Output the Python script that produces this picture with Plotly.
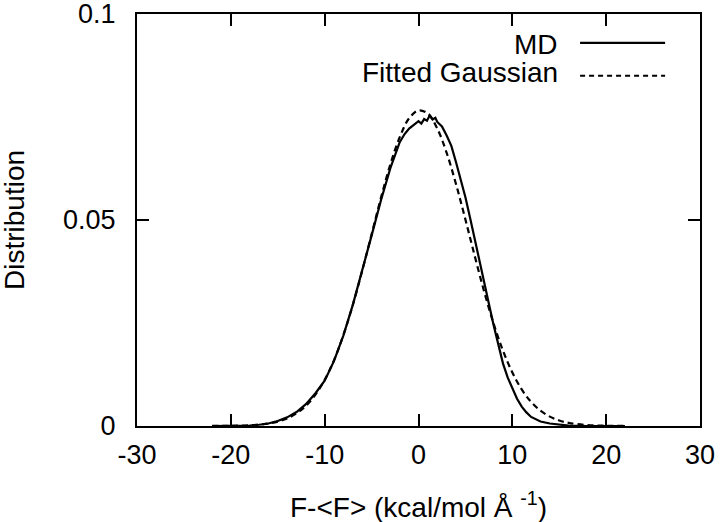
import plotly.graph_objects as go

# MD distribution
md_x = [-22, -20, -18, -17, -16, -15, -14, -13, -12, -11, -10, -9, -8, -7, -6, -5, -4, -3, -2,
        -1.5, -1, -0.5, 0, 0.3, 0.6, 0.9, 1.2, 1.5, 1.8, 2, 2.5, 3, 3.5, 4, 4.5, 5, 5.5, 6,
        6.5, 7, 7.5, 8, 8.5, 9, 9.5, 10, 10.5, 11, 11.5, 12, 13, 14, 15, 16, 18, 20, 22]
md_y = [0.0, 0.0, 0.0001, 0.0003, 0.0006, 0.0012, 0.0021, 0.0034, 0.0053, 0.0079, 0.0110,
        0.0158, 0.0220, 0.0294, 0.0376, 0.0462, 0.0548, 0.0626, 0.0689,
        0.0708, 0.0722, 0.0731, 0.0740, 0.0734, 0.0745, 0.0741, 0.0754, 0.0744, 0.0748,
        0.0738, 0.0727, 0.0705, 0.0680, 0.0640, 0.0600, 0.0555, 0.0505, 0.0455,
        0.0405, 0.0350, 0.0297, 0.0245, 0.0195, 0.0152, 0.0118, 0.0090, 0.0066, 0.0047,
        0.0033, 0.0022, 0.0011, 0.0006, 0.0003, 0.0001, 0.0, 0.0, 0.0]

# Fitted Gaussian
fit_x = [-22, -20, -18, -16, -15, -14, -13, -12, -11, -10, -9, -8, -7, -6, -5, -4, -3, -2, -1,
         0, 1, 2, 3, 4, 5, 6, 7, 8, 9, 10, 11, 12, 13, 14, 15, 16, 18, 20, 22]
fit_y = [0.00001, 0.00004, 0.00017, 0.00060, 0.00107, 0.00184, 0.00306, 0.00489, 0.00755,
         0.0112, 0.0160, 0.0221, 0.0294, 0.0377, 0.0465, 0.0554, 0.0635, 0.0701, 0.0747,
         0.0766, 0.0758, 0.0722, 0.0663, 0.0587, 0.0501, 0.0412, 0.0326, 0.0249, 0.0183,
         0.0130, 0.00887, 0.00584, 0.00371, 0.00227, 0.00134, 0.00076, 0.00022, 0.000055, 0.00001]

x_ticks = [-30, -20, -10, 0, 10, 20, 30]
y_ticks = [0, 0.05, 0.1]
y_tick_labels = ["0", "0.05", "0.1"]

FONT = "Liberation Sans, Arial, sans-serif"
FS = 28
TXT = dict(family=FONT, size=FS, color="black")
TICKTXT = dict(family=FONT, size=27, color="black")

fig = go.Figure()
fig.add_trace(go.Scatter(x=md_x, y=md_y, mode="lines", name="MD",
                         line=dict(color="black", width=2.2), showlegend=False))
fig.add_trace(go.Scatter(x=fit_x, y=fit_y, mode="lines", name="Fitted Gaussian",
                         line=dict(color="black", width=2.2, dash="6px,4px", shape="spline"),
                         showlegend=False))

axis_common = dict(showline=True, linecolor="black", linewidth=2, mirror="ticks",
                   ticks="inside", ticklen=12, tickwidth=2, tickcolor="black",
                   showgrid=False, zeroline=False, automargin=False, tickfont=TICKTXT,
                   ticklabeloverflow="allow")

fig.update_xaxes(range=[-30, 30], tickvals=x_ticks, ticktext=[str(v) for v in x_ticks],
                 ticklabelstandoff=4, **axis_common)
fig.update_yaxes(range=[0, 0.1000001], tickvals=y_ticks, ticktext=y_tick_labels,
                 ticklabelstandoff=14, **axis_common)

# axis titles
fig.add_annotation(x=0.5, y=0, xref="paper", yref="paper",
                   text="F-&lt;F&gt; (kcal/mol Å <sup>-1</sup>)", showarrow=False,
                   xanchor="center", yanchor="middle", yshift=-79, font=TXT)
fig.add_annotation(x=0, y=0.5, xref="paper", yref="paper", text="Distribution",
                   showarrow=False, textangle=-90, xanchor="center", yanchor="middle",
                   xshift=-123, font=TXT)

# gnuplot-style key: text right-aligned, sample line to the right
fig.add_annotation(x=0.751, y=0.927, xref="paper", yref="paper", text="MD", showarrow=False,
                   xanchor="right", yanchor="middle", font=TXT)
fig.add_annotation(x=0.751, y=0.859, xref="paper", yref="paper", text="Fitted Gaussian",
                   showarrow=False, xanchor="right", yanchor="middle", font=TXT)
fig.add_shape(type="line", xref="paper", yref="paper", x0=0.787, x1=0.938, y0=0.930, y1=0.930,
              line=dict(color="black", width=2.2))
fig.add_shape(type="line", xref="paper", yref="paper", x0=0.787, x1=0.938, y0=0.850, y1=0.850,
              line=dict(color="black", width=2, dash="5px,4px"))

fig.update_layout(width=720, height=522, plot_bgcolor="white", paper_bgcolor="white",
                  margin=dict(l=137, r=20, t=14, b=96), showlegend=False,
                  font=TXT)

fig.write_html("out.html", config={"displayModeBar": False},
               post_script="document.body.style.margin='0';")
